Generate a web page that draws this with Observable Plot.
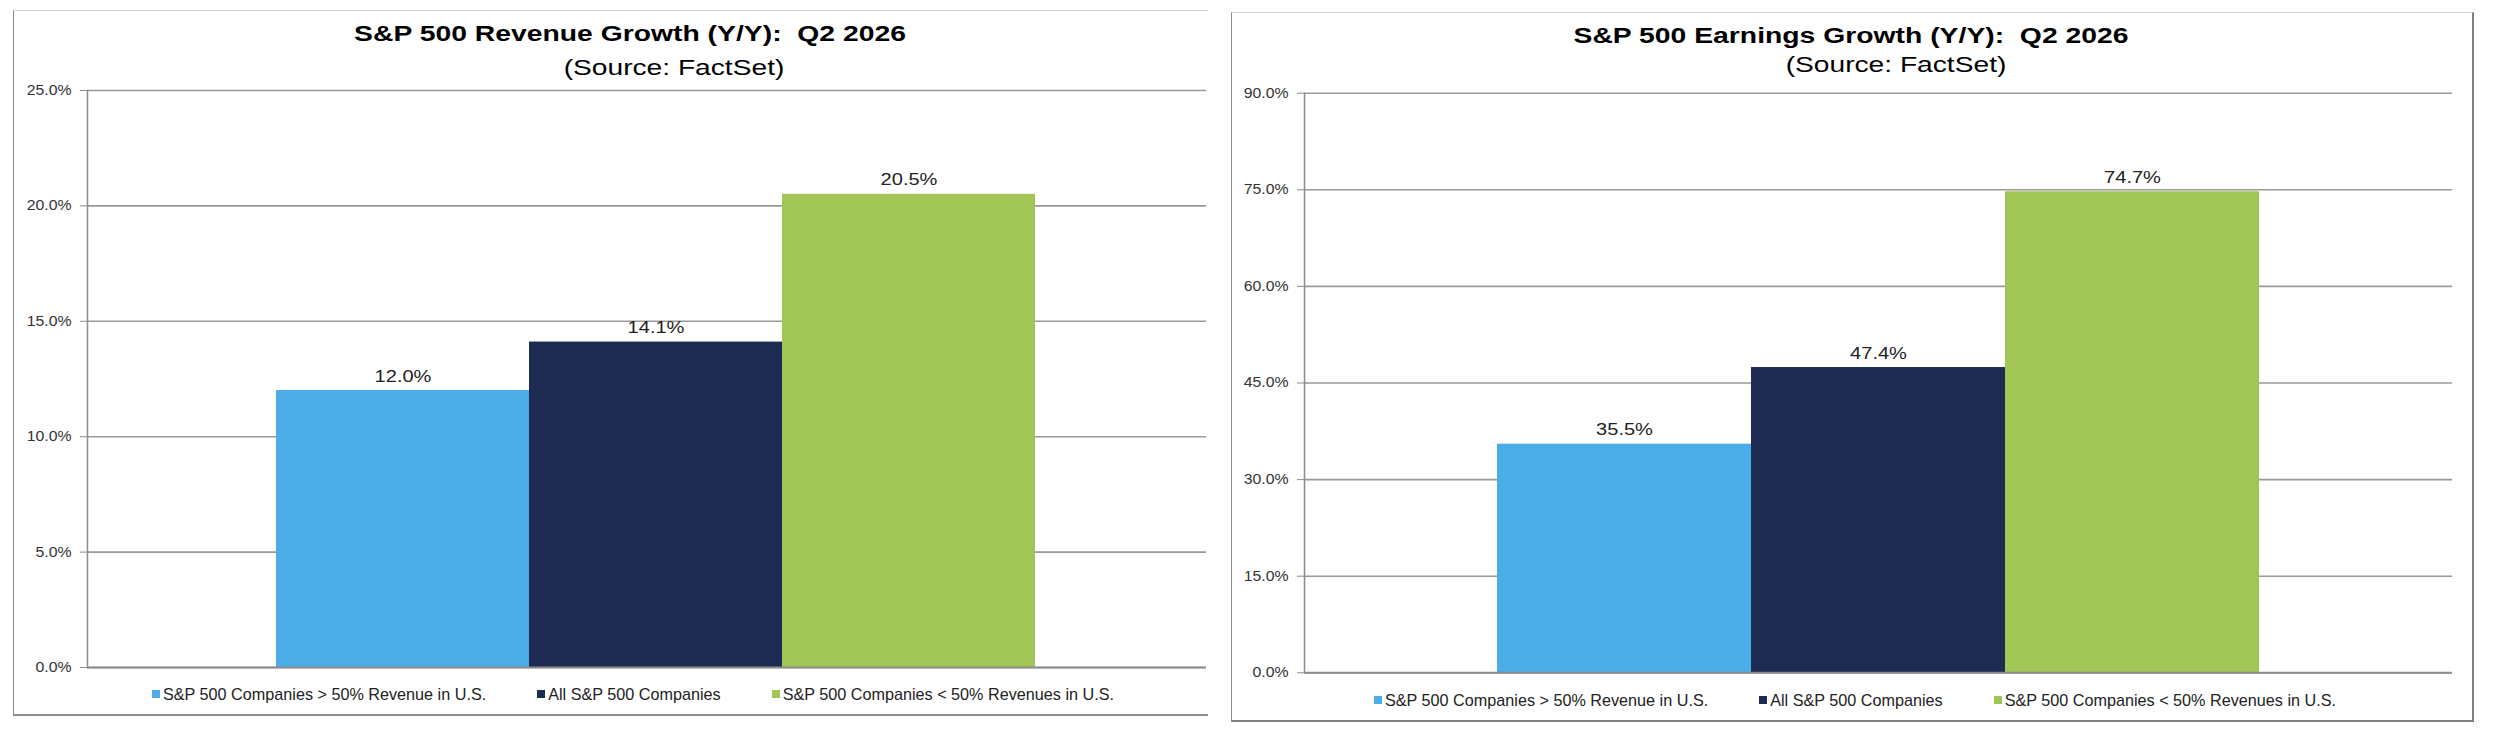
<!DOCTYPE html>
<html>
<head>
<meta charset="utf-8">
<script src="https://cdn.jsdelivr.net/npm/d3@7"></script>
<script src="https://cdn.jsdelivr.net/npm/@observablehq/plot@0.6"></script>
<style>
  html, body { margin: 0; padding: 0; background: #fff; }
  body { width: 2500px; height: 736px; position: relative; overflow: hidden; font-family: "Liberation Sans", Arial, sans-serif; }
  .panel { position: absolute; box-sizing: border-box; }
  .title, .subtitle { position: absolute; white-space: pre; line-height: 1; color: #000; transform-origin: 50% 50%; }
  .title { font-weight: bold; font-size: 22.3px; }
  .subtitle { font-size: 22px; }
  .chart { position: absolute; }
  .legend { position: absolute; display: flex; align-items: center; gap: 51px; height: 16px; line-height: 1; font-size: 16.2px; color: #222; white-space: nowrap; }
  .legend .item { display: flex; align-items: center; }
  .legend .sw { width: 8px; height: 8px; margin-right: 3px; display: inline-block; }
  svg g[aria-label="y-axis tick"] { stroke: #8c8c8c; }
</style>
</head>
<body>
<div class="panel" style="left:13px;top:10px;width:1195px;height:706px;border-left:1.5px solid #8c8c8c;border-top:1px solid #d4d4d4;border-bottom:2px solid #8c8c8c;"></div>
<div class="panel" style="left:1231px;top:12px;width:1243px;height:710px;border-left:1.5px solid #8c8c8c;border-top:1px solid #d4d4d4;border-right:2px solid #808080;border-bottom:2px solid #808080;"></div>
<div id="root"></div>
<script>
// ---- data ----
const series = [
  "S&P 500 Companies > 50% Revenue in U.S.",
  "All S&P 500 Companies",
  "S&P 500 Companies < 50% Revenues in U.S."
];
const colors = ["#4aade8", "#1d2a52", "#a2c655"];
const revenueGrowth = [12.0, 14.1, 20.5];
const earningsGrowth = [35.5, 47.4, 74.7];
const revenueTicks = [0, 5, 10, 15, 20, 25];
const earningsTicks = [0, 15, 30, 45, 60, 75, 90];
const revenueTitle = "S&P 500 Revenue Growth (Y/Y):  Q2 2026";
const earningsTitle = "S&P 500 Earnings Growth (Y/Y):  Q2 2026";
const subtitleText = "(Source: FactSet)";

const pct = d => d.toFixed(1) + "%";
const root = document.getElementById("root");

function addText(cls, text, centerX, top, scale) {
  const el = document.createElement("div");
  el.className = cls;
  el.textContent = text;
  el.style.left = centerX + "px";
  el.style.top = top + "px";
  el.style.transform = `translateX(-50%) scaleX(${scale})`;
  root.appendChild(el);
}

function addLegend(left, top) {
  const lg = document.createElement("div");
  lg.className = "legend";
  lg.style.left = left + "px";
  lg.style.top = top + "px";
  series.forEach((s, i) => {
    const it = document.createElement("div");
    it.className = "item";
    const sw = document.createElement("span");
    sw.className = "sw";
    sw.style.background = colors[i];
    const tx = document.createElement("span");
    tx.textContent = s;
    it.appendChild(sw);
    it.appendChild(tx);
    lg.appendChild(it);
  });
  root.appendChild(lg);
}

function makeChart({values, ticks, left, top, width, height, margins, paddingOuter, align}) {
  const data = series.map((s, i) => ({series: s, value: values[i]}));
  const ymax = ticks[ticks.length - 1];
  const svg = Plot.plot({
    width, height,
    marginLeft: margins[0], marginRight: margins[1], marginTop: margins[2], marginBottom: margins[3],
    style: {background: "transparent", fontFamily: "'Liberation Sans', Arial, sans-serif", overflow: "visible"},
    x: {type: "band", domain: series, paddingInner: 0, paddingOuter, align, axis: null},
    y: {domain: [0, ymax]},
    color: {domain: series, range: colors},
    marks: [
      Plot.ruleY(ticks, {stroke: "#999", strokeWidth: 1.6}),
      Plot.barY(data, {x: "series", y: "value", fill: "series"}),
      Plot.ruleY([0], {stroke: "#8c8c8c", strokeWidth: 2}),
      Plot.frame({anchor: "left", stroke: "#8c8c8c", strokeWidth: 1.5}),
      Plot.axisY({ticks, tickFormat: pct, tickSize: 7, tickPadding: 9, fontSize: 14, color: "#333", label: null}),
      Plot.text(data, {x: "series", y: "value", text: d => pct(d.value), dy: -9, lineAnchor: "bottom", fontSize: 17, fill: "#222"})
    ]
  });
  svg.classList.add("chart");
  svg.style.position = "absolute";
  svg.style.left = left + "px";
  svg.style.top = top + "px";
  root.appendChild(svg);
  const stretch = (sel, f) => svg.querySelectorAll(sel).forEach(t => {
    const L = t.getComputedTextLength();
    if (L > 0) { t.setAttribute("textLength", (L * f).toFixed(2)); t.setAttribute("lengthAdjust", "spacingAndGlyphs"); }
  });
  stretch('g[aria-label="y-axis tick label"] text', 1.13);
  stretch('g[aria-label="text"] text', 1.18);
}

// Left: revenue
makeChart({values: revenueGrowth, ticks: revenueTicks, left: 13, top: 80, width: 1195, height: 600,
  margins: [74, 2, 10, 13], paddingOuter: 0.705, align: 0.525});
// Right: earnings
makeChart({values: earningsGrowth, ticks: earningsTicks, left: 1232, top: 80, width: 1241, height: 610,
  margins: [72, 21, 12.7, 17.7], paddingOuter: 0.751, align: 0.5});

addText("title", revenueTitle, 630, 22.8, 1.27);
addText("subtitle", subtitleText, 674, 57.4, 1.28);
addText("title", earningsTitle, 1851, 24.6, 1.27);
addText("subtitle", subtitleText, 1896, 53.8, 1.28);

addLegend(152, 686);
addLegend(1374, 692);
</script>
</body>
</html>
